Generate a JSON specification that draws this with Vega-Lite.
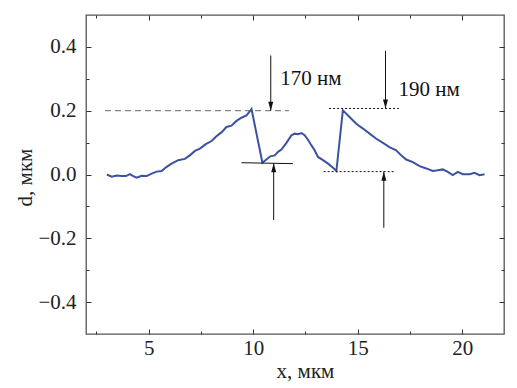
{
  "$schema": "https://vega.github.io/schema/vega-lite/v6.json",
  "width": 418,
  "height": 319,
  "autosize": {"type": "none"},
  "padding": {"left": 86, "top": 15, "right": 13, "bottom": 54},
  "background": "white",
  "config": {
    "view": {"stroke": "#555", "strokeWidth": 1.3},
    "font": "Liberation Serif",
    "axis": {
      "domain": false,
      "grid": false,
      "tickColor": "#333",
      "tickWidth": 1,
      "labelFont": "Liberation Serif",
      "labelFontSize": 21,
      "labelColor": "#222",
      "titleFont": "Liberation Serif",
      "titleFontSize": 21,
      "titleFontWeight": "normal",
      "titleColor": "#222"
    }
  },
  "datasets": {
    "profile": [
      {"x": 3.0, "y": 0.000}, {"x": 3.23, "y": -0.007}, {"x": 3.47, "y": -0.003}, {"x": 3.71, "y": -0.005},
      {"x": 3.91, "y": -0.005}, {"x": 4.10, "y": 0.001}, {"x": 4.26, "y": -0.005}, {"x": 4.42, "y": -0.010},
      {"x": 4.66, "y": -0.004}, {"x": 4.90, "y": -0.005}, {"x": 5.14, "y": 0.003}, {"x": 5.38, "y": 0.009},
      {"x": 5.62, "y": 0.011}, {"x": 5.86, "y": 0.024}, {"x": 6.09, "y": 0.034}, {"x": 6.41, "y": 0.045},
      {"x": 6.73, "y": 0.049}, {"x": 6.97, "y": 0.060}, {"x": 7.21, "y": 0.074}, {"x": 7.45, "y": 0.081},
      {"x": 7.73, "y": 0.095}, {"x": 8.01, "y": 0.105}, {"x": 8.24, "y": 0.120}, {"x": 8.48, "y": 0.132},
      {"x": 8.72, "y": 0.149}, {"x": 8.96, "y": 0.153}, {"x": 9.20, "y": 0.168}, {"x": 9.44, "y": 0.178},
      {"x": 9.68, "y": 0.185}, {"x": 9.92, "y": 0.205}, {"x": 10.44, "y": 0.037}, {"x": 10.63, "y": 0.047},
      {"x": 10.82, "y": 0.057}, {"x": 11.03, "y": 0.060}, {"x": 11.19, "y": 0.071}, {"x": 11.35, "y": 0.078},
      {"x": 11.59, "y": 0.099}, {"x": 11.83, "y": 0.123}, {"x": 11.99, "y": 0.128}, {"x": 12.15, "y": 0.126},
      {"x": 12.31, "y": 0.130}, {"x": 12.46, "y": 0.123}, {"x": 12.62, "y": 0.109}, {"x": 12.78, "y": 0.092},
      {"x": 12.94, "y": 0.076}, {"x": 13.10, "y": 0.055}, {"x": 13.34, "y": 0.045}, {"x": 13.58, "y": 0.034},
      {"x": 13.82, "y": 0.021}, {"x": 13.98, "y": 0.011}, {"x": 14.29, "y": 0.201}, {"x": 14.61, "y": 0.180},
      {"x": 14.93, "y": 0.159}, {"x": 15.25, "y": 0.144}, {"x": 15.57, "y": 0.128}, {"x": 15.89, "y": 0.112},
      {"x": 16.21, "y": 0.099}, {"x": 16.52, "y": 0.086}, {"x": 16.84, "y": 0.076}, {"x": 17.08, "y": 0.060},
      {"x": 17.32, "y": 0.047}, {"x": 17.64, "y": 0.039}, {"x": 17.96, "y": 0.026}, {"x": 18.28, "y": 0.019},
      {"x": 18.59, "y": 0.011}, {"x": 18.83, "y": 0.013}, {"x": 19.07, "y": 0.016}, {"x": 19.31, "y": 0.008},
      {"x": 19.55, "y": -0.002}, {"x": 19.79, "y": 0.008}, {"x": 20.03, "y": 0.001}, {"x": 20.35, "y": 0.001},
      {"x": 20.59, "y": 0.005}, {"x": 20.83, "y": -0.002}, {"x": 21.07, "y": 0.001}
    ],
    "segments": [
      {"kind": "dash", "x": 2.91, "x2": 11.71, "y": 0.2, "y2": 0.2},
      {"kind": "solid", "x": 9.44, "x2": 11.9, "y": 0.037, "y2": 0.034},
      {"kind": "dot", "x": 13.63, "x2": 16.97, "y": 0.207, "y2": 0.207},
      {"kind": "dot", "x": 13.37, "x2": 16.72, "y": 0.009, "y2": 0.009},
      {"kind": "shaft", "x": 10.84, "x2": 10.84, "y": 0.373, "y2": 0.2},
      {"kind": "shaft", "x": 10.98, "x2": 10.98, "y": -0.143, "y2": 0.035},
      {"kind": "shaft", "x": 16.33, "x2": 16.33, "y": 0.388, "y2": 0.207},
      {"kind": "shaft", "x": 16.25, "x2": 16.25, "y": -0.167, "y2": 0.009}
    ],
    "heads": [
      {"dir": "down", "x": 10.84, "y": 0.2},
      {"dir": "up", "x": 10.98, "y": 0.035},
      {"dir": "down", "x": 16.33, "y": 0.207},
      {"dir": "up", "x": 16.25, "y": 0.009}
    ],
    "labels": [
      {"x": 11.3, "y": 0.281, "text": "170 нм"},
      {"x": 16.95, "y": 0.2456, "text": "190 нм"}
    ]
  },
  "layer": [
    {
      "data": {"name": "profile"},
      "mark": {"type": "line", "color": "#3a52a0", "strokeWidth": 2},
      "encoding": {
        "x": {
          "field": "x", "type": "quantitative",
          "scale": {"domain": [2, 22], "nice": false, "zero": false},
          "axis": {
            "orient": "bottom",
            "values": [2.5, 5, 7.5, 10, 12.5, 15, 17.5, 20],
            "format": "d",
            "labelExpr": "datum.value % 5 == 0 ? format(datum.value, 'd') : ''",
            "tickSize": {"condition": {"test": "datum.value % 5 != 0", "value": -3}, "value": -5},
            "labelPadding": 8,
            "title": "x, мкм",
            "titleX": 219,
            "titleY": 37,
            "titleAlign": "center",
            "titleBaseline": "middle"
          }
        },
        "y": {
          "field": "y", "type": "quantitative",
          "scale": {"domain": [-0.5, 0.5], "nice": false, "zero": false},
          "axis": {
            "orient": "left",
            "values": [-0.4, -0.3, -0.2, -0.1, 0, 0.1, 0.2, 0.3, 0.4],
            "format": ".1f",
            "labelExpr": "abs(round(datum.value * 10)) % 2 == 0 ? datum.label : ''",
            "tickSize": {"condition": {"test": "abs(round(datum.value * 10)) % 2 != 0", "value": -3}, "value": -5},
            "labelPadding": 15,
            "title": "d, мкм",
            "titleX": -61,
            "titleY": 162,
            "titleAngle": -90,
            "titleAlign": "center",
            "titleBaseline": "middle"
          }
        }
      }
    },
    {
      "data": {"name": "segments"},
      "transform": [{"filter": "datum.kind == 'dash'"}],
      "mark": {"type": "rule", "color": "#666", "strokeWidth": 1, "strokeDash": [6, 4]},
      "encoding": {
        "x": {
          "field": "x", "type": "quantitative",
          "scale": {"domain": [2, 22], "nice": false, "zero": false},
          "axis": {
            "orient": "top",
            "values": [2.5, 5, 7.5, 10, 12.5, 15, 17.5, 20],
            "labels": false,
            "tickSize": {"condition": {"test": "datum.value % 5 != 0", "value": -3}, "value": -5},
            "title": null
          }
        },
        "x2": {"field": "x2"},
        "y": {
          "field": "y", "type": "quantitative",
          "scale": {"domain": [-0.5, 0.5], "nice": false, "zero": false},
          "axis": {
            "orient": "right",
            "values": [-0.4, -0.3, -0.2, -0.1, 0, 0.1, 0.2, 0.3, 0.4],
            "labels": false,
            "tickSize": {"condition": {"test": "abs(round(datum.value * 10)) % 2 != 0", "value": -3}, "value": -5},
            "title": null
          }
        },
        "y2": {"field": "y2"}
      }
    },
    {
      "data": {"name": "segments"},
      "transform": [{"filter": "datum.kind == 'solid' || datum.kind == 'shaft'"}],
      "mark": {"type": "rule", "color": "#111", "strokeWidth": 1},
      "encoding": {
        "x": {"field": "x", "type": "quantitative", "scale": {"domain": [2, 22], "nice": false, "zero": false}, "axis": null},
        "x2": {"field": "x2"},
        "y": {"field": "y", "type": "quantitative", "scale": {"domain": [-0.5, 0.5], "nice": false, "zero": false}, "axis": null},
        "y2": {"field": "y2"}
      }
    },
    {
      "data": {"name": "segments"},
      "transform": [{"filter": "datum.kind == 'dot'"}],
      "mark": {"type": "rule", "color": "#111", "strokeWidth": 1, "strokeDash": [2, 2]},
      "encoding": {
        "x": {"field": "x", "type": "quantitative", "scale": {"domain": [2, 22], "nice": false, "zero": false}, "axis": null},
        "x2": {"field": "x2"},
        "y": {"field": "y", "type": "quantitative", "scale": {"domain": [-0.5, 0.5], "nice": false, "zero": false}, "axis": null},
        "y2": {"field": "y2"}
      }
    },
    {
      "data": {"name": "heads"},
      "transform": [{"filter": "datum.dir == 'down'"}],
      "mark": {"type": "point", "shape": "M-0.28,-1L0.28,-1L0,0Z", "filled": true, "color": "#111", "opacity": 1, "size": 324, "strokeWidth": 0},
      "encoding": {
        "x": {"field": "x", "type": "quantitative", "scale": {"domain": [2, 22], "nice": false, "zero": false}, "axis": null},
        "y": {"field": "y", "type": "quantitative", "scale": {"domain": [-0.5, 0.5], "nice": false, "zero": false}, "axis": null}
      }
    },
    {
      "data": {"name": "heads"},
      "transform": [{"filter": "datum.dir == 'up'"}],
      "mark": {"type": "point", "shape": "M-0.28,1L0.28,1L0,0Z", "filled": true, "color": "#111", "opacity": 1, "size": 324, "strokeWidth": 0},
      "encoding": {
        "x": {"field": "x", "type": "quantitative", "scale": {"domain": [2, 22], "nice": false, "zero": false}, "axis": null},
        "y": {"field": "y", "type": "quantitative", "scale": {"domain": [-0.5, 0.5], "nice": false, "zero": false}, "axis": null}
      }
    },
    {
      "data": {"name": "labels"},
      "mark": {"type": "text", "align": "left", "baseline": "alphabetic", "font": "Liberation Serif", "fontSize": 21, "color": "#111"},
      "encoding": {
        "x": {"field": "x", "type": "quantitative", "scale": {"domain": [2, 22], "nice": false, "zero": false}, "axis": null},
        "y": {"field": "y", "type": "quantitative", "scale": {"domain": [-0.5, 0.5], "nice": false, "zero": false}, "axis": null},
        "text": {"field": "text"}
      }
    }
  ],
  "resolve": {"axis": {"x": "independent", "y": "independent"}}
}
